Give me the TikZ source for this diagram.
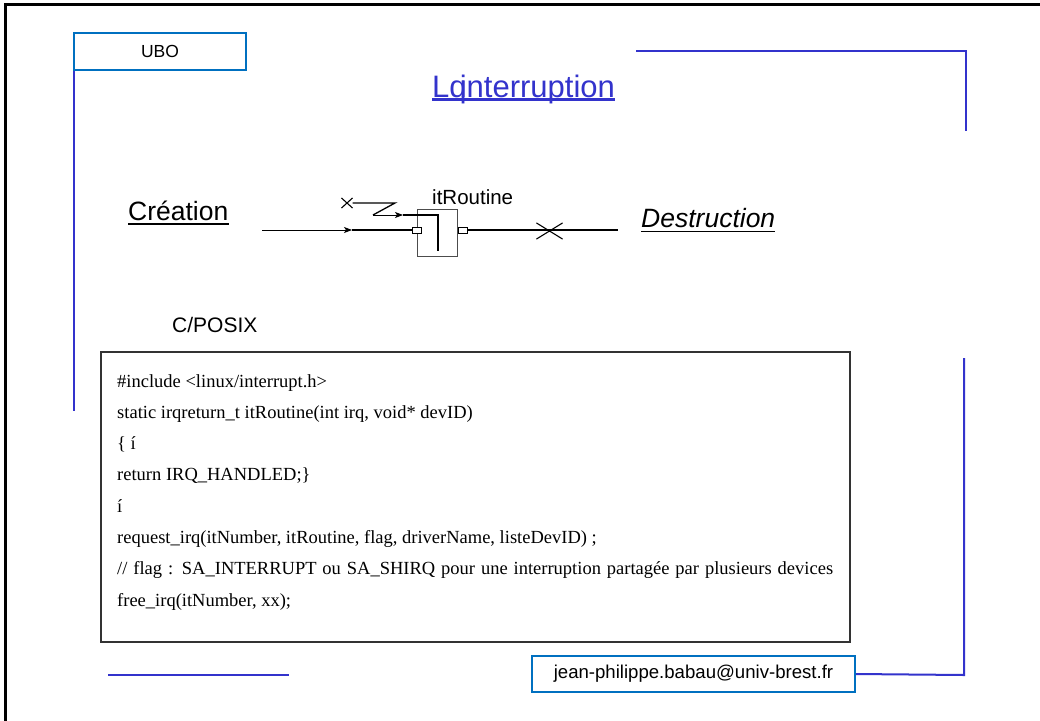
\documentclass[tikz,border=0pt]{standalone}
\usepackage{fontspec}
\setmainfont{Liberation Sans}
\newfontfamily\codefont{Liberation Serif}
\usetikzlibrary{shapes.misc,arrows.meta}
\definecolor{slideblue}{RGB}{51,51,204}
\definecolor{tagblue}{RGB}{0,112,192}
\begin{document}
\begin{tikzpicture}[x=1pt,y=-1pt,
  rule/.style={draw=slideblue,line width=1.5pt},
  tag/.style={draw=tagblue,line width=2pt,fill=white,inner sep=0pt},
  plain/.style={anchor=base west,inner sep=0pt},
  codeline/.style={plain,font=\codefont\fontsize{18.5}{20}\selectfont},
  port/.style={draw,fill=white,line width=0.8pt,minimum width=9.5pt,minimum height=6pt,inner sep=0pt},
  wire/.style={line width=1.6pt},
  feed/.style={line width=0.8pt,-{Stealth[length=8pt,width=6pt,inset=2pt]}},
  kill/.style={cross out,draw,line width=1.1pt,inner sep=0pt}]
\useasboundingbox (0,0) rectangle (1040,720);
\fill[white] (0,0) rectangle (1040,720);
% page frame
\draw[line width=2.8pt] (5.5,725) -- (5.5,4.5) -- (1045,4.5);

% header tag and rules
\coordinate (lefttail) at (74,411);
\draw[rule] (74,70) -- (lefttail);
\node[tag,minimum width=172pt,minimum height=37pt,font=\fontsize{17.5}{20}\selectfont] (ubo) at (160,51.5) {UBO};
\coordinate (trA) at (636,51);
\coordinate (trB) at (966,51);
\coordinate (trC) at (966,131);
\draw[rule,line width=1.2pt] (trA) -- (trB) -- (trC);

% title
\node[plain,text=slideblue,font=\fontsize{31}{34}\selectfont] (title) at (432,97) {Lq\kern-0.222em interruption};
\draw[slideblue,line width=2.2pt] ([yshift=-2.5pt]title.base west) -- ([yshift=-2.5pt]title.base east);

% life cycle labels
\node[plain,font=\fontsize{26.5}{30}\selectfont] (create) at (128,220) {Création};
\draw[line width=1.5pt] ([yshift=-4pt]create.base west) -- ([yshift=-4pt]create.base east);
\node[plain,font=\fontsize{26.5}{30}\itshape\selectfont] (destroy) at (641,227) {Destruction};
\draw[line width=1.5pt] ([yshift=-4.5pt]destroy.base west) -- ([yshift=-4.5pt]destroy.base east);

% the routine component
\node[draw=black!70,line width=0.9pt,minimum width=40pt,minimum height=47pt,inner sep=0pt] (routine) at (437,232.5) {};
\node[plain,font=\fontsize{20.5}{22}\selectfont] (routinelabel) at (432,204) {itRoutine};
\node[port] (inport) at (416.7,230) {};
\node[port] (outport) at (463,230) {};

% creation flow
\coordinate (feedsrc) at (262,230);
\coordinate (feedtip) at (352,230);
\draw[feed] (feedsrc) -- (feedtip);
\draw[wire] (feedtip) -- (inport.west);

% destruction flow
\coordinate (sink) at (618,230);
\draw[wire] (outport.east) -- (sink);
\node[kill,minimum width=25pt,minimum height=15pt] (kill) at (549.5,231) {};

% interrupt signal
\node[kill,minimum width=10pt,minimum height=9pt] (irqsrc) at (347,203) {};
\coordinate (zA) at (395,203);
\coordinate (zB) at (373,215);
\coordinate (zC) at (403,215);
\coordinate (bend) at (438,215);
\coordinate (bottom) at (438,251);
\draw[line width=1.3pt] (irqsrc.east) -- (zA) -- (zB);
\draw[feed] (zB) -- (zC);
\draw[wire] (zC) -- (bend) -- (bottom);

% code listing
\node[plain,font=\fontsize{21}{24}\selectfont] (posix) at (172,332) {C/POSIX};
\node[draw=black!80,line width=1.5pt,minimum width=749pt,minimum height=290pt,inner sep=0pt] (codebox) at (475.5,497) {};
\node[codeline] (c1) at (117,387) {\#include <linux/interrupt.h>};
\node[codeline] (c2) at (117,418.3) {static irqreturn\_t itRoutine(int irq, void* devID)};
\node[codeline] (c3) at (117,449.6) {\{ í};
\node[codeline] (c4) at (117,480.9) {return IRQ\_HANDLED;\}};
\node[codeline] (c5) at (117,512.2) {í};
\node[codeline] (c6) at (117,543.5) {request\_irq(itNumber, itRoutine, flag, driverName, listeDevID) ;};
\node[codeline] (c7) at (117,574.8) {\makebox[716pt][s]{// flag : SA\_INTERRUPT ou SA\_SHIRQ pour une interruption partagée par plusieurs devices}};
\node[codeline] (c8) at (117,606.1) {free\_irq(itNumber, xx);};

% footer
\coordinate (blA) at (108,675);
\coordinate (blB) at (289,675);
\draw[rule,line width=1.2pt] (blA) -- (blB);
\node[tag,minimum width=323pt,minimum height=36pt,font=\fontsize{18.6}{20}\selectfont] (mail) at (693.5,674) {jean-philippe.babau@univ-brest.fr};
\coordinate (mrA) at (964,675);
\coordinate (mrB) at (964,358);
\draw[rule,line width=2pt] (mail.east) -- (mrA) -- (mrB);
\end{tikzpicture}
\end{document}
